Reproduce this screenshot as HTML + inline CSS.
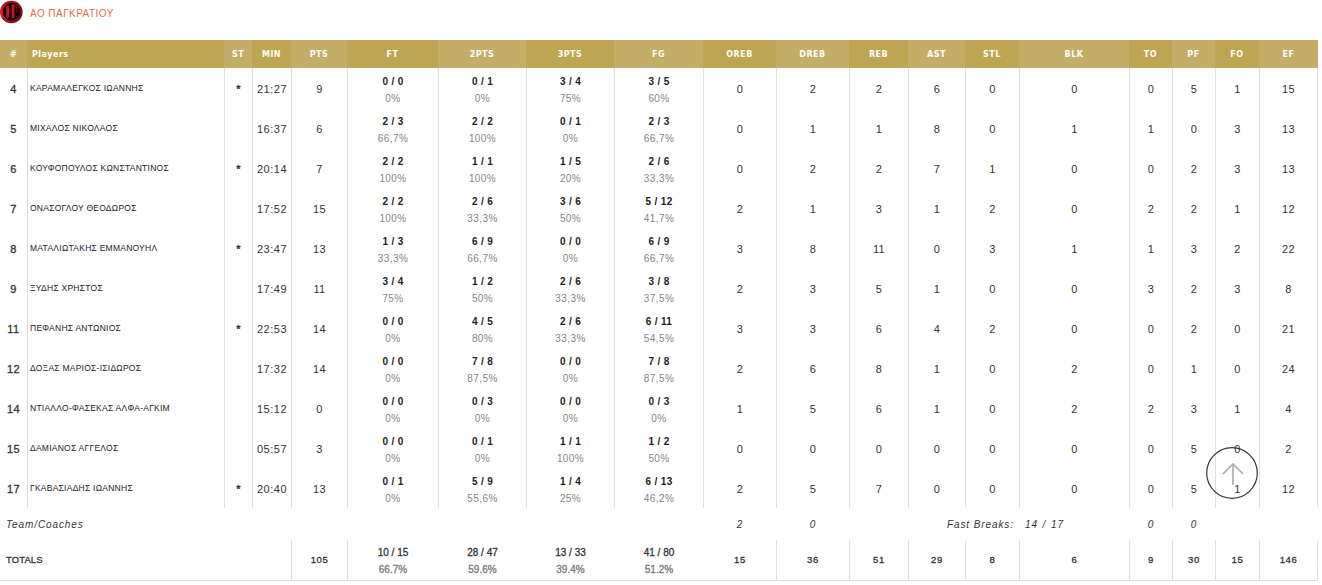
<!DOCTYPE html>
<html><head><meta charset="utf-8"><title>Box score</title>
<style>
*{margin:0;padding:0;box-sizing:border-box}
html,body{width:1322px;height:585px;background:#fff;overflow:hidden}
body{position:relative;font-family:"Liberation Sans",Arial,sans-serif;color:#333}
.abs{position:absolute}
.logo{position:absolute;left:0;top:0;width:24px;height:24px}
.title{position:absolute;left:30px;top:7px;font-size:10px;line-height:14px;color:#d96f40;letter-spacing:0.45px;white-space:nowrap}
.hd{position:absolute;top:40px;height:28px;line-height:28px;text-align:center;color:#fff;font-family:"DejaVu Sans",Verdana,sans-serif;font-weight:bold;font-size:8px;letter-spacing:0.5px;padding-top:1px;white-space:nowrap}
.hd.l{background:#c4ad66}.hd.d{background:#bea553}
.vl{position:absolute;width:1px;background:#dfdfdf}
.c{position:absolute;height:40px;display:flex;align-items:center;justify-content:center;text-align:center;white-space:nowrap;font-size:11px;letter-spacing:0.4px;padding-top:2px}
.num{font-size:11px;color:#333;letter-spacing:0.5px;-webkit-text-stroke:0.3px #333}
.mn{letter-spacing:0.5px}
.nm{justify-content:flex-start;padding-left:2px;padding-top:0;font-size:8.5px;letter-spacing:0.25px;color:#222}
.st{font-size:11px;align-items:flex-start;padding-top:15px;-webkit-text-stroke:0.4px #333}
.two{flex-direction:column;padding-top:4px}
.two .f{font-weight:bold;font-size:10px;line-height:17px;color:#222;letter-spacing:0.35px}
.two .p{font-size:10px;line-height:17px;color:#858585;letter-spacing:0.4px}
.it{position:absolute;font-style:italic;font-size:10px;letter-spacing:0.9px;white-space:nowrap;color:#333}
.tc{position:absolute;height:40px;display:flex;align-items:center;justify-content:center;flex-direction:column;white-space:nowrap;font-size:10px;color:#333;-webkit-text-stroke:0.3px #333}
.tc .p{color:#777;-webkit-text-stroke:0.3px #777}
.hl{position:absolute;height:1px;background:#dfdfdf}

</style></head><body>
<svg class="logo" viewBox="0 0 24 24" width="24" height="24"><defs><radialGradient id="lg" cx="0.1" cy="0.5" r="0.95"><stop offset="0" stop-color="#f01a24"/><stop offset="0.35" stop-color="#b40f17"/><stop offset="0.8" stop-color="#8a0a10"/><stop offset="1" stop-color="#5a0609"/></radialGradient></defs><circle cx="11.3" cy="12" r="11.3" fill="url(#lg)"/><circle cx="11.4" cy="11.9" r="8.8" fill="#1a0304"/><rect x="6.2" y="5.4" width="2.8" height="12.4" rx="1.2" fill="#c5141c"/><rect x="11.7" y="4.4" width="2.8" height="13.8" rx="1.2" fill="#c5141c"/><path d="M14.6 4.6 Q17.2 5.2 16.6 13" fill="none" stroke="#6e0a0f" stroke-width="0.9"/></svg>
<div class="title">ΑΟ ΠΑΓΚΡΑΤΙΟΥ</div>
<div class="hd l" style="left:0px;width:27px">#</div>
<div class="hd d" style="left:27px;width:197px;text-align:left;padding-left:5px">Players</div>
<div class="hd l" style="left:224px;width:28px">ST</div>
<div class="hd d" style="left:252px;width:39px">MIN</div>
<div class="hd l" style="left:291px;width:56px">PTS</div>
<div class="hd d" style="left:347px;width:91px">FT</div>
<div class="hd l" style="left:438px;width:88px">2PTS</div>
<div class="hd d" style="left:526px;width:88px">3PTS</div>
<div class="hd l" style="left:614px;width:89px">FG</div>
<div class="hd d" style="left:703px;width:73px">OREB</div>
<div class="hd l" style="left:776px;width:73px">DREB</div>
<div class="hd d" style="left:849px;width:59px">REB</div>
<div class="hd l" style="left:908px;width:57px">AST</div>
<div class="hd d" style="left:965px;width:54px">STL</div>
<div class="hd l" style="left:1019px;width:110px">BLK</div>
<div class="hd d" style="left:1129px;width:43px">TO</div>
<div class="hd l" style="left:1172px;width:43px">PF</div>
<div class="hd d" style="left:1215px;width:44px">FO</div>
<div class="hd l" style="left:1259px;width:59px">EF</div>
<div class="vl" style="left:27px;top:68px;height:440px"></div>
<div class="vl" style="left:224px;top:68px;height:440px"></div>
<div class="vl" style="left:252px;top:68px;height:440px"></div>
<div class="vl" style="left:291px;top:68px;height:440px"></div>
<div class="vl" style="left:347px;top:68px;height:440px"></div>
<div class="vl" style="left:438px;top:68px;height:440px"></div>
<div class="vl" style="left:526px;top:68px;height:440px"></div>
<div class="vl" style="left:614px;top:68px;height:440px"></div>
<div class="vl" style="left:703px;top:68px;height:440px"></div>
<div class="vl" style="left:776px;top:68px;height:440px"></div>
<div class="vl" style="left:849px;top:68px;height:440px"></div>
<div class="vl" style="left:908px;top:68px;height:440px"></div>
<div class="vl" style="left:965px;top:68px;height:440px"></div>
<div class="vl" style="left:1019px;top:68px;height:440px"></div>
<div class="vl" style="left:1129px;top:68px;height:440px"></div>
<div class="vl" style="left:1172px;top:68px;height:440px"></div>
<div class="vl" style="left:1215px;top:68px;height:440px"></div>
<div class="vl" style="left:1259px;top:68px;height:440px"></div>
<div class="vl" style="left:1317px;top:68px;height:440px"></div>
<div class="c num" style="left:0px;top:68px;width:27px">4</div>
<div class="c nm" style="left:28px;top:68px;width:196px">ΚΑΡΑΜΑΛΕΓΚΟΣ ΙΩΑΝΝΗΣ</div>
<div class="c st" style="left:225px;top:68px;width:27px">*</div>
<div class="c mn" style="left:253px;top:68px;width:38px">21:27</div>
<div class="c" style="left:292px;top:68px;width:55px">9</div>
<div class="c two" style="left:348px;top:68px;width:90px"><div class="f">0 / 0</div><div class="p">0%</div></div>
<div class="c two" style="left:439px;top:68px;width:87px"><div class="f">0 / 1</div><div class="p">0%</div></div>
<div class="c two" style="left:527px;top:68px;width:87px"><div class="f">3 / 4</div><div class="p">75%</div></div>
<div class="c two" style="left:615px;top:68px;width:88px"><div class="f">3 / 5</div><div class="p">60%</div></div>
<div class="c" style="left:704px;top:68px;width:72px">0</div>
<div class="c" style="left:777px;top:68px;width:72px">2</div>
<div class="c" style="left:850px;top:68px;width:58px">2</div>
<div class="c" style="left:909px;top:68px;width:56px">6</div>
<div class="c" style="left:966px;top:68px;width:53px">0</div>
<div class="c" style="left:1020px;top:68px;width:109px">0</div>
<div class="c" style="left:1130px;top:68px;width:42px">0</div>
<div class="c" style="left:1173px;top:68px;width:42px">5</div>
<div class="c" style="left:1216px;top:68px;width:43px">1</div>
<div class="c" style="left:1260px;top:68px;width:57px">15</div>
<div class="c num" style="left:0px;top:108px;width:27px">5</div>
<div class="c nm" style="left:28px;top:108px;width:196px">ΜΙΧΑΛΟΣ ΝΙΚΟΛΑΟΣ</div>
<div class="c st" style="left:225px;top:108px;width:27px"></div>
<div class="c mn" style="left:253px;top:108px;width:38px">16:37</div>
<div class="c" style="left:292px;top:108px;width:55px">6</div>
<div class="c two" style="left:348px;top:108px;width:90px"><div class="f">2 / 3</div><div class="p">66,7%</div></div>
<div class="c two" style="left:439px;top:108px;width:87px"><div class="f">2 / 2</div><div class="p">100%</div></div>
<div class="c two" style="left:527px;top:108px;width:87px"><div class="f">0 / 1</div><div class="p">0%</div></div>
<div class="c two" style="left:615px;top:108px;width:88px"><div class="f">2 / 3</div><div class="p">66,7%</div></div>
<div class="c" style="left:704px;top:108px;width:72px">0</div>
<div class="c" style="left:777px;top:108px;width:72px">1</div>
<div class="c" style="left:850px;top:108px;width:58px">1</div>
<div class="c" style="left:909px;top:108px;width:56px">8</div>
<div class="c" style="left:966px;top:108px;width:53px">0</div>
<div class="c" style="left:1020px;top:108px;width:109px">1</div>
<div class="c" style="left:1130px;top:108px;width:42px">1</div>
<div class="c" style="left:1173px;top:108px;width:42px">0</div>
<div class="c" style="left:1216px;top:108px;width:43px">3</div>
<div class="c" style="left:1260px;top:108px;width:57px">13</div>
<div class="c num" style="left:0px;top:148px;width:27px">6</div>
<div class="c nm" style="left:28px;top:148px;width:196px">ΚΟΥΦΟΠΟΥΛΟΣ ΚΩΝΣΤΑΝΤΙΝΟΣ</div>
<div class="c st" style="left:225px;top:148px;width:27px">*</div>
<div class="c mn" style="left:253px;top:148px;width:38px">20:14</div>
<div class="c" style="left:292px;top:148px;width:55px">7</div>
<div class="c two" style="left:348px;top:148px;width:90px"><div class="f">2 / 2</div><div class="p">100%</div></div>
<div class="c two" style="left:439px;top:148px;width:87px"><div class="f">1 / 1</div><div class="p">100%</div></div>
<div class="c two" style="left:527px;top:148px;width:87px"><div class="f">1 / 5</div><div class="p">20%</div></div>
<div class="c two" style="left:615px;top:148px;width:88px"><div class="f">2 / 6</div><div class="p">33,3%</div></div>
<div class="c" style="left:704px;top:148px;width:72px">0</div>
<div class="c" style="left:777px;top:148px;width:72px">2</div>
<div class="c" style="left:850px;top:148px;width:58px">2</div>
<div class="c" style="left:909px;top:148px;width:56px">7</div>
<div class="c" style="left:966px;top:148px;width:53px">1</div>
<div class="c" style="left:1020px;top:148px;width:109px">0</div>
<div class="c" style="left:1130px;top:148px;width:42px">0</div>
<div class="c" style="left:1173px;top:148px;width:42px">2</div>
<div class="c" style="left:1216px;top:148px;width:43px">3</div>
<div class="c" style="left:1260px;top:148px;width:57px">13</div>
<div class="c num" style="left:0px;top:188px;width:27px">7</div>
<div class="c nm" style="left:28px;top:188px;width:196px">ΟΝΑΣΟΓΛΟΥ ΘΕΟΔΩΡΟΣ</div>
<div class="c st" style="left:225px;top:188px;width:27px"></div>
<div class="c mn" style="left:253px;top:188px;width:38px">17:52</div>
<div class="c" style="left:292px;top:188px;width:55px">15</div>
<div class="c two" style="left:348px;top:188px;width:90px"><div class="f">2 / 2</div><div class="p">100%</div></div>
<div class="c two" style="left:439px;top:188px;width:87px"><div class="f">2 / 6</div><div class="p">33,3%</div></div>
<div class="c two" style="left:527px;top:188px;width:87px"><div class="f">3 / 6</div><div class="p">50%</div></div>
<div class="c two" style="left:615px;top:188px;width:88px"><div class="f">5 / 12</div><div class="p">41,7%</div></div>
<div class="c" style="left:704px;top:188px;width:72px">2</div>
<div class="c" style="left:777px;top:188px;width:72px">1</div>
<div class="c" style="left:850px;top:188px;width:58px">3</div>
<div class="c" style="left:909px;top:188px;width:56px">1</div>
<div class="c" style="left:966px;top:188px;width:53px">2</div>
<div class="c" style="left:1020px;top:188px;width:109px">0</div>
<div class="c" style="left:1130px;top:188px;width:42px">2</div>
<div class="c" style="left:1173px;top:188px;width:42px">2</div>
<div class="c" style="left:1216px;top:188px;width:43px">1</div>
<div class="c" style="left:1260px;top:188px;width:57px">12</div>
<div class="c num" style="left:0px;top:228px;width:27px">8</div>
<div class="c nm" style="left:28px;top:228px;width:196px">ΜΑΤΑΛΙΩΤΑΚΗΣ ΕΜΜΑΝΟΥΗΛ</div>
<div class="c st" style="left:225px;top:228px;width:27px">*</div>
<div class="c mn" style="left:253px;top:228px;width:38px">23:47</div>
<div class="c" style="left:292px;top:228px;width:55px">13</div>
<div class="c two" style="left:348px;top:228px;width:90px"><div class="f">1 / 3</div><div class="p">33,3%</div></div>
<div class="c two" style="left:439px;top:228px;width:87px"><div class="f">6 / 9</div><div class="p">66,7%</div></div>
<div class="c two" style="left:527px;top:228px;width:87px"><div class="f">0 / 0</div><div class="p">0%</div></div>
<div class="c two" style="left:615px;top:228px;width:88px"><div class="f">6 / 9</div><div class="p">66,7%</div></div>
<div class="c" style="left:704px;top:228px;width:72px">3</div>
<div class="c" style="left:777px;top:228px;width:72px">8</div>
<div class="c" style="left:850px;top:228px;width:58px">11</div>
<div class="c" style="left:909px;top:228px;width:56px">0</div>
<div class="c" style="left:966px;top:228px;width:53px">3</div>
<div class="c" style="left:1020px;top:228px;width:109px">1</div>
<div class="c" style="left:1130px;top:228px;width:42px">1</div>
<div class="c" style="left:1173px;top:228px;width:42px">3</div>
<div class="c" style="left:1216px;top:228px;width:43px">2</div>
<div class="c" style="left:1260px;top:228px;width:57px">22</div>
<div class="c num" style="left:0px;top:268px;width:27px">9</div>
<div class="c nm" style="left:28px;top:268px;width:196px">ΞΥΔΗΣ ΧΡΗΣΤΟΣ</div>
<div class="c st" style="left:225px;top:268px;width:27px"></div>
<div class="c mn" style="left:253px;top:268px;width:38px">17:49</div>
<div class="c" style="left:292px;top:268px;width:55px">11</div>
<div class="c two" style="left:348px;top:268px;width:90px"><div class="f">3 / 4</div><div class="p">75%</div></div>
<div class="c two" style="left:439px;top:268px;width:87px"><div class="f">1 / 2</div><div class="p">50%</div></div>
<div class="c two" style="left:527px;top:268px;width:87px"><div class="f">2 / 6</div><div class="p">33,3%</div></div>
<div class="c two" style="left:615px;top:268px;width:88px"><div class="f">3 / 8</div><div class="p">37,5%</div></div>
<div class="c" style="left:704px;top:268px;width:72px">2</div>
<div class="c" style="left:777px;top:268px;width:72px">3</div>
<div class="c" style="left:850px;top:268px;width:58px">5</div>
<div class="c" style="left:909px;top:268px;width:56px">1</div>
<div class="c" style="left:966px;top:268px;width:53px">0</div>
<div class="c" style="left:1020px;top:268px;width:109px">0</div>
<div class="c" style="left:1130px;top:268px;width:42px">3</div>
<div class="c" style="left:1173px;top:268px;width:42px">2</div>
<div class="c" style="left:1216px;top:268px;width:43px">3</div>
<div class="c" style="left:1260px;top:268px;width:57px">8</div>
<div class="c num" style="left:0px;top:308px;width:27px">11</div>
<div class="c nm" style="left:28px;top:308px;width:196px">ΠΕΦΑΝΗΣ ΑΝΤΩΝΙΟΣ</div>
<div class="c st" style="left:225px;top:308px;width:27px">*</div>
<div class="c mn" style="left:253px;top:308px;width:38px">22:53</div>
<div class="c" style="left:292px;top:308px;width:55px">14</div>
<div class="c two" style="left:348px;top:308px;width:90px"><div class="f">0 / 0</div><div class="p">0%</div></div>
<div class="c two" style="left:439px;top:308px;width:87px"><div class="f">4 / 5</div><div class="p">80%</div></div>
<div class="c two" style="left:527px;top:308px;width:87px"><div class="f">2 / 6</div><div class="p">33,3%</div></div>
<div class="c two" style="left:615px;top:308px;width:88px"><div class="f">6 / 11</div><div class="p">54,5%</div></div>
<div class="c" style="left:704px;top:308px;width:72px">3</div>
<div class="c" style="left:777px;top:308px;width:72px">3</div>
<div class="c" style="left:850px;top:308px;width:58px">6</div>
<div class="c" style="left:909px;top:308px;width:56px">4</div>
<div class="c" style="left:966px;top:308px;width:53px">2</div>
<div class="c" style="left:1020px;top:308px;width:109px">0</div>
<div class="c" style="left:1130px;top:308px;width:42px">0</div>
<div class="c" style="left:1173px;top:308px;width:42px">2</div>
<div class="c" style="left:1216px;top:308px;width:43px">0</div>
<div class="c" style="left:1260px;top:308px;width:57px">21</div>
<div class="c num" style="left:0px;top:348px;width:27px">12</div>
<div class="c nm" style="left:28px;top:348px;width:196px">ΔΟΞΑΣ ΜΑΡΙΟΣ-ΙΣΙΔΩΡΟΣ</div>
<div class="c st" style="left:225px;top:348px;width:27px"></div>
<div class="c mn" style="left:253px;top:348px;width:38px">17:32</div>
<div class="c" style="left:292px;top:348px;width:55px">14</div>
<div class="c two" style="left:348px;top:348px;width:90px"><div class="f">0 / 0</div><div class="p">0%</div></div>
<div class="c two" style="left:439px;top:348px;width:87px"><div class="f">7 / 8</div><div class="p">87,5%</div></div>
<div class="c two" style="left:527px;top:348px;width:87px"><div class="f">0 / 0</div><div class="p">0%</div></div>
<div class="c two" style="left:615px;top:348px;width:88px"><div class="f">7 / 8</div><div class="p">87,5%</div></div>
<div class="c" style="left:704px;top:348px;width:72px">2</div>
<div class="c" style="left:777px;top:348px;width:72px">6</div>
<div class="c" style="left:850px;top:348px;width:58px">8</div>
<div class="c" style="left:909px;top:348px;width:56px">1</div>
<div class="c" style="left:966px;top:348px;width:53px">0</div>
<div class="c" style="left:1020px;top:348px;width:109px">2</div>
<div class="c" style="left:1130px;top:348px;width:42px">0</div>
<div class="c" style="left:1173px;top:348px;width:42px">1</div>
<div class="c" style="left:1216px;top:348px;width:43px">0</div>
<div class="c" style="left:1260px;top:348px;width:57px">24</div>
<div class="c num" style="left:0px;top:388px;width:27px">14</div>
<div class="c nm" style="left:28px;top:388px;width:196px">ΝΤΙΑΛΛΟ-ΦΑΣΕΚΑΣ ΑΛΦΑ-ΑΓΚΙΜ</div>
<div class="c st" style="left:225px;top:388px;width:27px"></div>
<div class="c mn" style="left:253px;top:388px;width:38px">15:12</div>
<div class="c" style="left:292px;top:388px;width:55px">0</div>
<div class="c two" style="left:348px;top:388px;width:90px"><div class="f">0 / 0</div><div class="p">0%</div></div>
<div class="c two" style="left:439px;top:388px;width:87px"><div class="f">0 / 3</div><div class="p">0%</div></div>
<div class="c two" style="left:527px;top:388px;width:87px"><div class="f">0 / 0</div><div class="p">0%</div></div>
<div class="c two" style="left:615px;top:388px;width:88px"><div class="f">0 / 3</div><div class="p">0%</div></div>
<div class="c" style="left:704px;top:388px;width:72px">1</div>
<div class="c" style="left:777px;top:388px;width:72px">5</div>
<div class="c" style="left:850px;top:388px;width:58px">6</div>
<div class="c" style="left:909px;top:388px;width:56px">1</div>
<div class="c" style="left:966px;top:388px;width:53px">0</div>
<div class="c" style="left:1020px;top:388px;width:109px">2</div>
<div class="c" style="left:1130px;top:388px;width:42px">2</div>
<div class="c" style="left:1173px;top:388px;width:42px">3</div>
<div class="c" style="left:1216px;top:388px;width:43px">1</div>
<div class="c" style="left:1260px;top:388px;width:57px">4</div>
<div class="c num" style="left:0px;top:428px;width:27px">15</div>
<div class="c nm" style="left:28px;top:428px;width:196px">ΔΑΜΙΑΝΟΣ ΑΓΓΕΛΟΣ</div>
<div class="c st" style="left:225px;top:428px;width:27px"></div>
<div class="c mn" style="left:253px;top:428px;width:38px">05:57</div>
<div class="c" style="left:292px;top:428px;width:55px">3</div>
<div class="c two" style="left:348px;top:428px;width:90px"><div class="f">0 / 0</div><div class="p">0%</div></div>
<div class="c two" style="left:439px;top:428px;width:87px"><div class="f">0 / 1</div><div class="p">0%</div></div>
<div class="c two" style="left:527px;top:428px;width:87px"><div class="f">1 / 1</div><div class="p">100%</div></div>
<div class="c two" style="left:615px;top:428px;width:88px"><div class="f">1 / 2</div><div class="p">50%</div></div>
<div class="c" style="left:704px;top:428px;width:72px">0</div>
<div class="c" style="left:777px;top:428px;width:72px">0</div>
<div class="c" style="left:850px;top:428px;width:58px">0</div>
<div class="c" style="left:909px;top:428px;width:56px">0</div>
<div class="c" style="left:966px;top:428px;width:53px">0</div>
<div class="c" style="left:1020px;top:428px;width:109px">0</div>
<div class="c" style="left:1130px;top:428px;width:42px">0</div>
<div class="c" style="left:1173px;top:428px;width:42px">5</div>
<div class="c" style="left:1216px;top:428px;width:43px">0</div>
<div class="c" style="left:1260px;top:428px;width:57px">2</div>
<div class="c num" style="left:0px;top:468px;width:27px">17</div>
<div class="c nm" style="left:28px;top:468px;width:196px">ΓΚΑΒΑΣΙΑΔΗΣ ΙΩΑΝΝΗΣ</div>
<div class="c st" style="left:225px;top:468px;width:27px">*</div>
<div class="c mn" style="left:253px;top:468px;width:38px">20:40</div>
<div class="c" style="left:292px;top:468px;width:55px">13</div>
<div class="c two" style="left:348px;top:468px;width:90px"><div class="f">0 / 1</div><div class="p">0%</div></div>
<div class="c two" style="left:439px;top:468px;width:87px"><div class="f">5 / 9</div><div class="p">55,6%</div></div>
<div class="c two" style="left:527px;top:468px;width:87px"><div class="f">1 / 4</div><div class="p">25%</div></div>
<div class="c two" style="left:615px;top:468px;width:88px"><div class="f">6 / 13</div><div class="p">46,2%</div></div>
<div class="c" style="left:704px;top:468px;width:72px">2</div>
<div class="c" style="left:777px;top:468px;width:72px">5</div>
<div class="c" style="left:850px;top:468px;width:58px">7</div>
<div class="c" style="left:909px;top:468px;width:56px">0</div>
<div class="c" style="left:966px;top:468px;width:53px">0</div>
<div class="c" style="left:1020px;top:468px;width:109px">0</div>
<div class="c" style="left:1130px;top:468px;width:42px">0</div>
<div class="c" style="left:1173px;top:468px;width:42px">5</div>
<div class="c" style="left:1216px;top:468px;width:43px">1</div>
<div class="c" style="left:1260px;top:468px;width:57px">12</div>
<div class="it" style="left:6px;top:518px;line-height:14px">Team/Coaches</div>
<div class="it" style="left:704px;width:72px;text-align:center;top:518px;line-height:14px">2</div>
<div class="it" style="left:777px;width:72px;text-align:center;top:518px;line-height:14px">0</div>
<div class="it" style="left:1130px;width:42px;text-align:center;top:518px;line-height:14px">0</div>
<div class="it" style="left:1173px;width:42px;text-align:center;top:518px;line-height:14px">0</div>
<div class="it" style="left:947px;top:518px;line-height:14px">Fast Breaks:</div>
<div class="it" style="left:1025px;top:518px;line-height:14px;word-spacing:1px">14 / 17</div>
<div class="tc" style="left:0;top:540px;width:291px;justify-content:center;align-items:flex-start;padding:0 0 1px 6px;font-size:9.5px;letter-spacing:0.1px">TOTALS</div>
<div class="vl" style="left:291px;top:540px;height:40px"></div>
<div class="vl" style="left:347px;top:540px;height:40px"></div>
<div class="vl" style="left:776px;top:540px;height:40px"></div>
<div class="vl" style="left:849px;top:540px;height:40px"></div>
<div class="vl" style="left:908px;top:540px;height:40px"></div>
<div class="vl" style="left:965px;top:540px;height:40px"></div>
<div class="vl" style="left:1019px;top:540px;height:40px"></div>
<div class="vl" style="left:1129px;top:540px;height:40px"></div>
<div class="vl" style="left:1172px;top:540px;height:40px"></div>
<div class="vl" style="left:1215px;top:540px;height:40px"></div>
<div class="vl" style="left:1259px;top:540px;height:40px"></div>
<div class="vl" style="left:1317px;top:540px;height:40px"></div>
<div class="tc" style="left:292px;top:540px;width:55px;padding-bottom:2px;letter-spacing:0.6px;font-size:9.5px">105</div>
<div class="tc" style="left:348px;top:540px;width:90px;padding-top:2px"><div style="line-height:17px">10 / 15</div><div class="p" style="line-height:17px">66.7%</div></div>
<div class="tc" style="left:439px;top:540px;width:87px;padding-top:2px"><div style="line-height:17px">28 / 47</div><div class="p" style="line-height:17px">59.6%</div></div>
<div class="tc" style="left:527px;top:540px;width:87px;padding-top:2px"><div style="line-height:17px">13 / 33</div><div class="p" style="line-height:17px">39.4%</div></div>
<div class="tc" style="left:615px;top:540px;width:88px;padding-top:2px"><div style="line-height:17px">41 / 80</div><div class="p" style="line-height:17px">51.2%</div></div>
<div class="tc" style="left:704px;top:540px;width:72px;padding-bottom:2px;letter-spacing:0.6px;font-size:9.5px">15</div>
<div class="tc" style="left:777px;top:540px;width:72px;padding-bottom:2px;letter-spacing:0.6px;font-size:9.5px">36</div>
<div class="tc" style="left:850px;top:540px;width:58px;padding-bottom:2px;letter-spacing:0.6px;font-size:9.5px">51</div>
<div class="tc" style="left:909px;top:540px;width:56px;padding-bottom:2px;letter-spacing:0.6px;font-size:9.5px">29</div>
<div class="tc" style="left:966px;top:540px;width:53px;padding-bottom:2px;letter-spacing:0.6px;font-size:9.5px">8</div>
<div class="tc" style="left:1020px;top:540px;width:109px;padding-bottom:2px;letter-spacing:0.6px;font-size:9.5px">6</div>
<div class="tc" style="left:1130px;top:540px;width:42px;padding-bottom:2px;letter-spacing:0.6px;font-size:9.5px">9</div>
<div class="tc" style="left:1173px;top:540px;width:42px;padding-bottom:2px;letter-spacing:0.6px;font-size:9.5px">30</div>
<div class="tc" style="left:1216px;top:540px;width:43px;padding-bottom:2px;letter-spacing:0.6px;font-size:9.5px">15</div>
<div class="tc" style="left:1260px;top:540px;width:57px;padding-bottom:2px;letter-spacing:0.6px;font-size:9.5px">146</div>
<div class="hl" style="left:0;top:580px;width:1318px"></div>
<svg class="abs" style="left:1206px;top:447px" width="52" height="52" viewBox="0 0 52 52"><circle cx="26" cy="26" r="25.3" fill="none" stroke="#333" stroke-width="1.2"/><path d="M27 17 V38 M17 27 L27 17 L37 27" fill="none" stroke="#aaa" stroke-width="1.6"/></svg>
</body></html>
